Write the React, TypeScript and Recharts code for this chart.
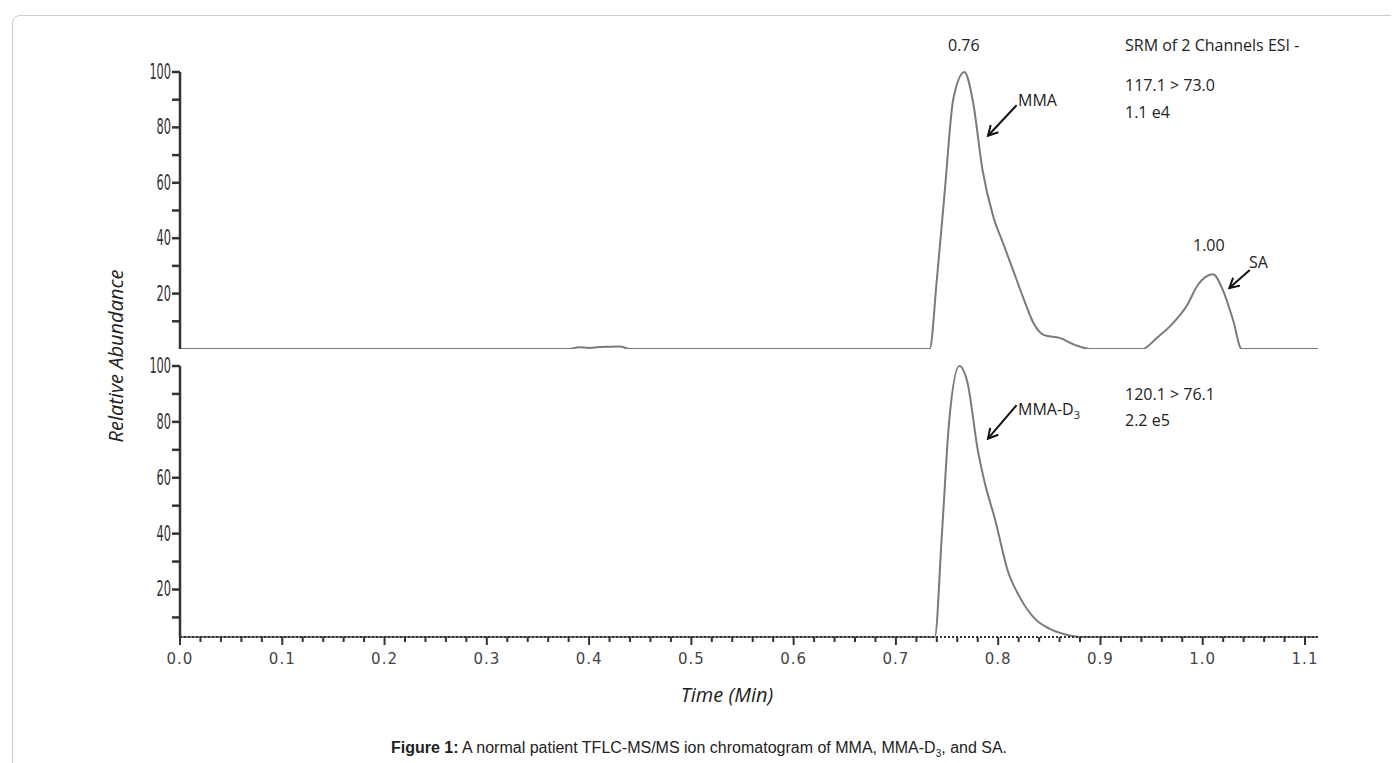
import React from "react";
import { LineChart, Line, XAxis, YAxis, ReferenceLine } from "recharts";

const topTime = [0, 0.38, 0.39, 0.40, 0.41, 0.43, 0.44, 0.733, 0.74, 0.748, 0.756, 0.767, 0.775, 0.785, 0.795, 0.805, 0.815, 0.825, 0.835, 0.845, 0.86, 0.875, 0.89, 0.941, 0.955, 0.97, 0.985, 0.995, 1.01, 1.02, 1.03, 1.038, 1.1127];
const topValues = [0, 0, 0.6, 0.4, 0.7, 0.9, 0, 0, 25, 58, 90, 100, 90, 64, 48, 38, 28, 18, 9, 5, 4, 1.5, 0, 0, 4, 9, 16, 23, 27, 21, 10, 0, 0];
const bottomTime = [0, 0.738, 0.745, 0.752, 0.762, 0.77, 0.78, 0.787, 0.797, 0.81, 0.82, 0.836, 0.85, 0.865, 0.88, 1.1127];
const bottomValues = [3, 3, 40, 80, 100, 94, 70, 58, 45, 26, 18, 9.5, 6, 4, 3, 3];
const yTicks = [5, 10, 15, 20, 25, 30, 35, 40, 45, 50, 55, 60, 65, 70, 75, 80, 85, 90, 95, 100];
const xTicks = Array.from({ length: 56 }, (_, i) => +(i * 0.02).toFixed(2));
const xLabels = [0, 0.1, 0.2, 0.3, 0.4, 0.5, 0.6, 0.7, 0.8, 0.9, 1.0, 1.1];

const topData = topTime.map((t, i) => ({ t, v: topValues[i] }));
const bottomData = bottomTime.map((t, i) => ({ t, v: bottomValues[i] }));

const LINE = "#7a7a7a";
const txt: React.CSSProperties = { position: "absolute", fontFamily: "'Open Sans', sans-serif", fontSize: 16, color: "#222", whiteSpace: "nowrap" };

const Arrow = (props: any) => {
  const { x1, y1, x2, y2 } = props;
  const a = Math.atan2(y2 - y1, x2 - x1);
  const h = 11;
  const p1 = [x2 - h * Math.cos(a - 0.5), y2 - h * Math.sin(a - 0.5)];
  const p2 = [x2 - h * Math.cos(a + 0.5), y2 - h * Math.sin(a + 0.5)];
  return (
    <g stroke="#111" strokeWidth={2} fill="none">
      <line x1={x1} y1={y1} x2={x2} y2={y2} />
      <polyline points={`${p1[0]},${p1[1]} ${x2},${y2} ${p2[0]},${p2[1]}`} />
    </g>
  );
};

const YTick = (props: any) => {
  const { x, y, payload } = props;
  const show = payload.value % 20 === 0;
  return (
    <g>
      <line x1={x} y1={y} x2={x + 8} y2={y} stroke="#333" strokeWidth={2.5} />
      {show && (
        <text x={x - 1} y={y + 7} textAnchor="end" fontSize={21} fontFamily="'DejaVu Sans Condensed', 'DejaVu Sans'" fill="#333" transform={`translate(${x - 1},${y}) scale(0.6,1) translate(${-(x - 1)},${-y})`}>
          {payload.value}
        </text>
      )}
    </g>
  );
};

const XTick = (props: any) => {
  const { x, y, payload } = props;
  const show = xLabels.some((l) => Math.abs(l - payload.value) < 1e-6);
  return (
    <g>
      <line x1={x} y1={y - 8} x2={x} y2={y + (show ? 0 : -3)} stroke="#333" strokeWidth={2} />
      {show && (
        <text x={x} y={y + 19} textAnchor="middle" fontSize={15} letterSpacing={1} fontFamily="'DejaVu Sans'" fill="#444">
          {payload.value.toFixed(1)}
        </text>
      )}
    </g>
  );
};

export default function App() {
  return (
    <div style={{ position: "relative", width: 1383, height: 755, overflow: "hidden", background: "#fff" }}>
      <div style={{ position: "absolute", left: 4, top: 7, width: 1400, height: 800, border: "1px solid #ccc", borderRadius: 8 }} />
      <div style={{ position: "absolute", left: 0, top: 0 }}>
        <LineChart width={1383} height={341} data={topData} margin={{ top: 64, right: 73, left: 112, bottom: 0 }}>
          <XAxis dataKey="t" type="number" domain={[0, 1.1127]} hide />
          <YAxis width={60} domain={[0, 100]} ticks={yTicks} tick={<YTick />} tickLine={false} axisLine={{ stroke: "#333", strokeWidth: 2.5 }} orientation="left" />
          <Line dataKey="v" stroke={LINE} strokeWidth={2} dot={false} isAnimationActive={false} type="monotone" />
          <ReferenceLine segment={[{ x: 0.818, y: 88 }, { x: 0.79, y: 77 }]} shape={<Arrow />} />
          <ReferenceLine segment={[{ x: 1.046, y: 28.5 }, { x: 1.026, y: 22 }]} shape={<Arrow />} />
        </LineChart>
      </div>
      <div style={{ position: "absolute", left: 0, top: 0 }}>
        <LineChart width={1383} height={700} data={bottomData} margin={{ top: 358, right: 73, left: 112, bottom: 0 }}>
          <XAxis dataKey="t" type="number" domain={[0, 1.1127]} ticks={xTicks} tick={<XTick />} tickLine={false} height={71} axisLine={{ stroke: "#333", strokeWidth: 2, strokeDasharray: "2 2" }} interval={0} />
          <YAxis width={60} domain={[3, 100]} ticks={yTicks.filter((t) => t > 3)} tick={<YTick />} tickLine={false} axisLine={{ stroke: "#333", strokeWidth: 2.5 }} />
          <Line dataKey="v" stroke={LINE} strokeWidth={2} dot={false} isAnimationActive={false} type="monotone" />
          <ReferenceLine segment={[{ x: 0.818, y: 86 }, { x: 0.79, y: 74 }]} shape={<Arrow />} />
        </LineChart>
      </div>
      <div style={{ ...txt, left: 940, top: 26 }}>0.76</div>
      <div style={{ ...txt, left: 1185, top: 226 }}>1.00</div>
      <div style={{ ...txt, left: 1010, top: 81 }}>MMA</div>
      <div style={{ ...txt, left: 1241, top: 243 }}>SA</div>
      <div style={{ ...txt, left: 1010, top: 390 }}>MMA-D<sub style={{ fontSize: 11 }}>3</sub></div>
      <div style={{ ...txt, left: 1117, top: 26 }}>SRM of 2 Channels ESI -</div>
      <div style={{ ...txt, left: 1117, top: 66 }}>117.1 &gt; 73.0</div>
      <div style={{ ...txt, left: 1117, top: 93 }}>1.1 e4</div>
      <div style={{ ...txt, left: 1117, top: 375 }}>120.1 &gt; 76.1</div>
      <div style={{ ...txt, left: 1117, top: 401 }}>2.2 e5</div>
      <div style={{ ...txt, fontSize: 20, fontStyle: "italic", left: 107, top: 348, transform: "translate(-50%,-50%) rotate(-90deg)" }}>Relative Abundance</div>
      <div style={{ ...txt, fontSize: 20, fontStyle: "italic", left: 719, top: 686, transform: "translate(-50%,-50%)" }}>Time (Min)</div>
      <div style={{ ...txt, fontFamily: "'Liberation Sans', Arial, sans-serif", fontSize: 16, left: 691, top: 741, transform: "translate(-50%,-50%)" }}>
        <b>Figure 1:</b> A normal patient TFLC-MS/MS ion chromatogram of MMA, MMA-D<sub style={{ fontSize: 10 }}>3</sub>, and SA.
      </div>
    </div>
  );
}
